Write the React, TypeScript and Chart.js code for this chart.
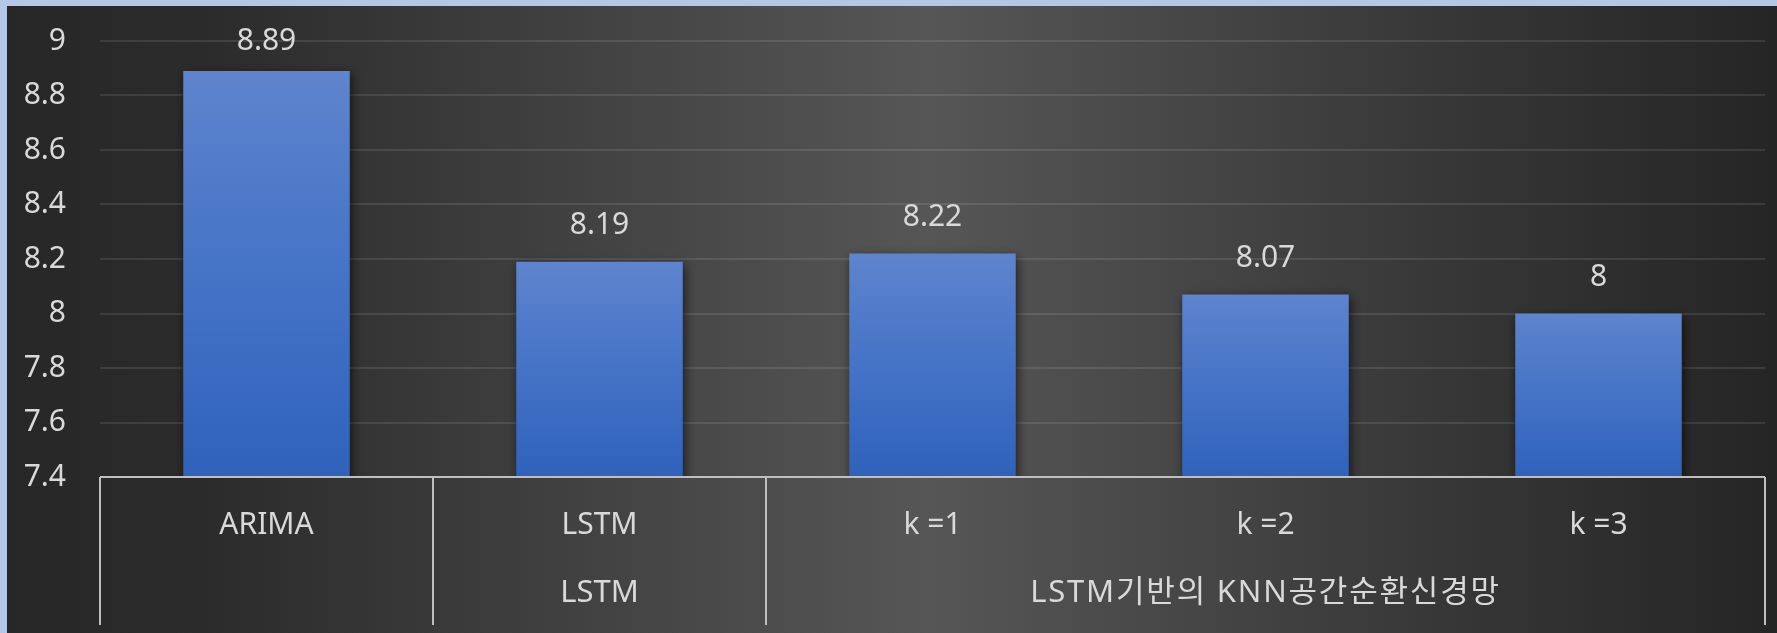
import React, { useEffect, useRef } from 'react';
import { Chart, registerables } from 'chart.js';

Chart.register(...registerables);

// ---- data ----
const categories = ['ARIMA', 'LSTM', 'k =1', 'k =2', 'k =3'];
const values = [8.89, 8.19, 8.22, 8.07, 8];
const groupLabels = ['', 'LSTM', 'LSTM기반의 KNN공간순환신경망'];
const groupSpans = [1, 1, 3];
const yTickValues = [7.4, 7.6, 7.8, 8, 8.2, 8.4, 8.6, 8.8, 9];
const yMin = 7.4;
const yMax = 9;

const W = 1777;
const H = 633;
const FONT = '"Noto Sans", "Noto Sans CJK KR", sans-serif';
const TEXT = '#d9d9d9';
const FS = 30;

const bgPlugin = {
  id: 'bgPlugin',
  beforeDraw(chart: any) {
    const { ctx } = chart;
    ctx.save();
    ctx.fillStyle = '#b4c7e7';
    ctx.fillRect(0, 0, W, H);
    const g = ctx.createLinearGradient(7, 0, W, 0);
    g.addColorStop(0, '#272727');
    g.addColorStop(0.12, '#2c2c2c');
    g.addColorStop(0.52, '#565656');
    g.addColorStop(0.82, '#363636');
    g.addColorStop(1, '#252525');
    ctx.fillStyle = g;
    ctx.fillRect(7, 6, W - 7, H - 6);
    ctx.restore();
  },
};

const shadowPlugin = {
  id: 'shadowPlugin',
  beforeDatasetsDraw(chart: any) {
    const { ctx } = chart;
    ctx.save();
    ctx.shadowColor = 'rgba(0,0,0,0.6)';
    ctx.shadowBlur = 10;
    ctx.shadowOffsetX = 2;
    ctx.shadowOffsetY = 3;
  },
  afterDatasetsDraw(chart: any) {
    chart.ctx.restore();
  },
};

const labelsPlugin = {
  id: 'labelsPlugin',
  afterDraw(chart: any) {
    const { ctx, chartArea: area } = chart;
    const xs = chart.scales.x;
    const ys = chart.scales.y;
    const step = xs.getPixelForValue(1) - xs.getPixelForValue(0);
    ctx.save();

    // data labels
    ctx.fillStyle = TEXT;
    ctx.font = `${FS}px ${FONT}`;
    ctx.textAlign = 'center';
    ctx.textBaseline = 'middle';
    values.forEach((v, i) => {
      const top = ys.getPixelForValue(v);
      const y = Math.max(top - 36, area.top);
      ctx.fillText(String(v), xs.getPixelForValue(i), y);
    });

    // axis line
    ctx.strokeStyle = '#bfbfbf';
    ctx.lineWidth = 2;
    ctx.beginPath();
    ctx.moveTo(area.left, area.bottom);
    ctx.lineTo(area.right, area.bottom);
    ctx.stroke();

    // category labels
    categories.forEach((c, i) => {
      ctx.fillText(c, xs.getPixelForValue(i), area.bottom + 48);
    });

    // group dividers and labels
    let idx = 0;
    const bounds = [0];
    groupSpans.forEach((s) => {
      idx += s;
      bounds.push(idx);
    });
    ctx.strokeStyle = '#bfbfbf';
    bounds.forEach((b) => {
      const x = Math.round(xs.getPixelForValue(0) - step / 2 + b * step);
      ctx.beginPath();
      ctx.moveTo(x, area.bottom);
      ctx.lineTo(x, area.bottom + 148);
      ctx.stroke();
    });
    ctx.font = `31px ${FONT}`;
    groupLabels.forEach((g, gi) => {
      if (!g) return;
      const a = bounds[gi];
      const b = bounds[gi + 1];
      const cx = xs.getPixelForValue(0) - step / 2 + ((a + b) / 2) * step;
      (ctx as any).letterSpacing = g.length > 10 ? '1.8px' : '0px';
      ctx.fillText(g, cx, area.bottom + 116);
    });
    ctx.restore();
  },
};

export default function App() {
  const ref = useRef<HTMLCanvasElement | null>(null);
  useEffect(() => {
    if (!ref.current) return;
    const chart = new Chart(ref.current, {
      type: 'bar',
      data: {
        labels: categories,
        datasets: [
          {
            data: values,
            backgroundColor: (c: any) => {
              const chart = c.chart;
              const area = chart.chartArea;
              if (!area || c.dataIndex === undefined) return '#4472c4';
              const ys = chart.scales.y;
              const top = ys.getPixelForValue(values[c.dataIndex]);
              const bottom = ys.getPixelForValue(yMin);
              const g = chart.ctx.createLinearGradient(0, top, 0, bottom);
              g.addColorStop(0, '#5e84cd');
              g.addColorStop(0.5, '#4573c6');
              g.addColorStop(1, '#2f62bc');
              return g;
            },
            borderWidth: 0,
            categoryPercentage: 1,
            barPercentage: 0.5,
          },
        ],
      },
      options: {
        responsive: false,
        animation: false,
        devicePixelRatio: 1,
        layout: { padding: { left: 7, right: 12, top: 41, bottom: 156 } },
        plugins: { legend: { display: false }, tooltip: { enabled: false } },
        scales: {
          x: { display: false },
          y: {
            min: yMin,
            max: yMax,
            afterBuildTicks: (scale: any) => {
              scale.ticks = yTickValues.map((v) => ({ value: v }));
            },
            afterFit: (scale: any) => {
              scale.width = 93;
              scale.paddingTop = 10;
              scale.paddingBottom = 10;
            },
            grid: { color: 'rgba(255,255,255,0.1)', lineWidth: 2, drawTicks: false },
            border: { display: false },
            ticks: {
              padding: 34,
              color: TEXT,
              font: { family: FONT, size: FS },
              callback: (v: any) => String(Number(Number(v).toFixed(1))),
            },
          },
        },
      },
      plugins: [bgPlugin, shadowPlugin, labelsPlugin],
    });
    return () => chart.destroy();
  }, []);
  return (
    <div style={{ position: 'absolute', left: 0, top: 0, width: W, height: H }}>
      <canvas ref={ref} width={W} height={H} style={{ display: 'block' }} />
    </div>
  );
}
